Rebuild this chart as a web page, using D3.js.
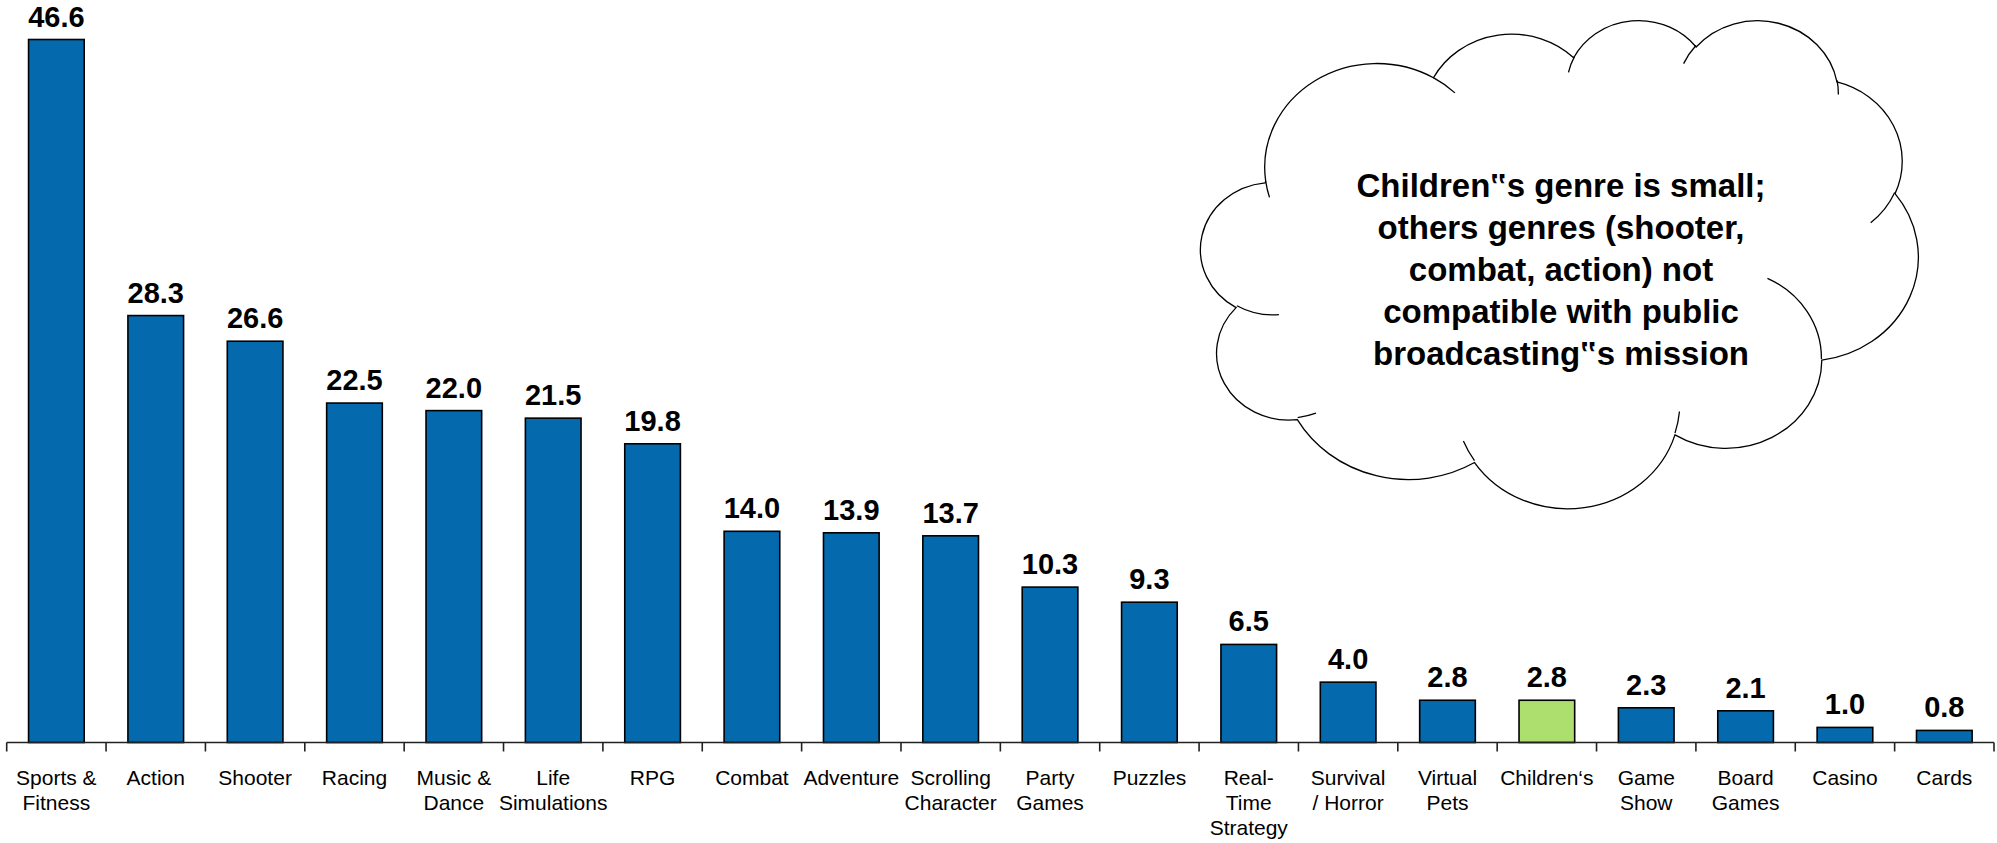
<!DOCTYPE html>
<html>
<head>
<meta charset="utf-8">
<script src="https://cdn.jsdelivr.net/npm/d3@7"></script>
<style>
  html, body { margin: 0; padding: 0; background: #fff; }
  svg { display: block; }
</style>
</head>
<body>
<svg id="chart" width="1997" height="843"></svg>
<script>
// ---- data ----
const categories = [
  "Sports &\nFitness", "Action", "Shooter", "Racing", "Music &\nDance",
  "Life\nSimulations", "RPG", "Combat", "Adventure", "Scrolling\nCharacter",
  "Party\nGames", "Puzzles", "Real-\nTime\nStrategy", "Survival\n/ Horror", "Virtual\nPets",
  "Children‘s", "Game\nShow", "Board\nGames", "Casino", "Cards"
];
const values = [46.6, 28.3, 26.6, 22.5, 22.0, 21.5, 19.8, 14.0, 13.9, 13.7,
                10.3, 9.3, 6.5, 4.0, 2.8, 2.8, 2.3, 2.1, 1.0, 0.8];
const highlighted = ["Children‘s"];
const calloutLines = [
  "Children‟s genre is small;",
  "others genres (shooter,",
  "combat, action) not",
  "compatible with public",
  "broadcasting‟s mission"
];

// ---- layout ----
const svg = d3.select("#chart");
const blue = "#0569AE", green = "#ADDF6E";
const x = d3.scaleBand().domain(categories).range([6.7, 1994]).paddingInner(0.44).paddingOuter(0.22);
const y = d3.scaleLinear().domain([0, 46.6]).range([742.5, 39.5]);

// bars
svg.append("g").selectAll("rect").data(values).join("rect")
  .attr("x", (d, i) => x(categories[i]))
  .attr("width", x.bandwidth())
  .attr("y", d => y(d))
  .attr("height", d => y(0) - y(d))
  .attr("fill", (d, i) => highlighted.includes(categories[i]) ? green : blue)
  .attr("stroke", "#000").attr("stroke-width", 1.6);

// axis line + ticks (ticks at band boundaries)
const step = x.step();
const x0 = 6.7;
svg.append("line").attr("x1", x0).attr("x2", 1994).attr("y1", y(0)).attr("y2", y(0))
  .attr("stroke", "#222").attr("stroke-width", 1.6);
const bounds = d3.range(categories.length + 1);
svg.append("g").selectAll("line").data(bounds).join("line")
  .attr("x1", i => x0 + i * step).attr("x2", i => x0 + i * step)
  .attr("y1", y(0)).attr("y2", y(0) + 9)
  .attr("stroke", "#222").attr("stroke-width", 1.6);

// value labels
svg.append("g").selectAll("text").data(values).join("text")
  .attr("x", (d, i) => x(categories[i]) + x.bandwidth() / 2)
  .attr("y", d => y(d) - 13)
  .attr("text-anchor", "middle")
  .attr("font-family", "Liberation Sans, Arial, sans-serif")
  .attr("font-weight", "bold").attr("font-size", 29)
  .attr("fill", "#000")
  .text(d => d.toFixed(1));

// category labels
const lab = svg.append("g").selectAll("text").data(categories).join("text")
  .attr("x", d => x(d) + x.bandwidth() / 2)
  .attr("y", 785)
  .attr("text-anchor", "middle")
  .attr("font-family", "Liberation Sans, Arial, sans-serif")
  .attr("font-size", 21).attr("fill", "#000");
lab.each(function(d) {
  const t = d3.select(this);
  d.split("\n").forEach((line, k) => {
    t.append("tspan").attr("x", x(d) + x.bandwidth() / 2).attr("y", 785 + 25 * k).text(line);
  });
});

// ---- cloud callout (PowerPoint-style cloud shape) ----
const box = {x0: 1201, x1: 1918, y0: 19, y1: 507};
const sx = d3.scaleLinear().domain([0, 43200]).range([box.x0, box.x1]);
const sy = d3.scaleLinear().domain([0, 43200]).range([box.y0, box.y1]);
const kx = (box.x1 - box.x0) / 43200, ky = (box.y1 - box.y0) / 43200;

function arcSeg(cur, wR, hR, stAng, swAng) {
  const th1 = stAng / 60000 * Math.PI / 180;
  const sw = swAng / 60000 * Math.PI / 180;
  const th2 = th1 + sw;
  const t1 = Math.atan2(wR * Math.sin(th1), hR * Math.cos(th1));
  const t2 = Math.atan2(wR * Math.sin(th2), hR * Math.cos(th2));
  const cx = cur[0] - wR * Math.cos(t1), cy = cur[1] - hR * Math.sin(t1);
  const end = [cx + wR * Math.cos(t2), cy + hR * Math.sin(t2)];
  let dt = t2 - t1;
  if (sw > 0 && dt < 0) dt += 2 * Math.PI;
  if (sw < 0 && dt > 0) dt -= 2 * Math.PI;
  const large = Math.abs(dt) > Math.PI ? 1 : 0;
  const sweep = sw > 0 ? 1 : 0;
  const cmd = `A${wR * kx},${hR * ky} 0 ${large} ${sweep} ${sx(end[0])},${sy(end[1])}`;
  return {end, cmd};
}

const outerArcs = [
  [6753, 9190, -11429249, 7426832],
  [5333, 7267, -8646143, 5396714],
  [4365, 5945, -8748475, 5983381],
  [4857, 6595, -7859164, 7034504],
  [5333, 7273, -4722533, 6541615],
  [6775, 9220, -2776035, 7816140],
  [5785, 7867, 37501, 6842000],
  [6752, 9215, 1347096, 6910353],
  [7720, 10543, 3974558, 4542661],
  [4360, 5918, -16496525, 8804134],
  [4345, 5945, -14809710, 9151131]
];
let cur = [3900, 14370];
let dOuter = `M${sx(cur[0])},${sy(cur[1])}`;
outerArcs.forEach(a => { const r = arcSeg(cur, ...a); dOuter += r.cmd; cur = r.end; });
dOuter += "Z";

const innerArcs = [
  [[4693, 26177], 4345, 5945, 5204520, 1585770],
  [[6928, 34899], 4360, 5918, 4416628, 686848],
  [[16478, 39090], 6752, 9215, 8257449, 844866],
  [[28827, 34751], 6752, 9215, 387196, 959901],
  [[34129, 22954], 5785, 7867, -4217541, 4255042],
  [[41798, 15354], 5333, 7273, 1819082, 1665090],
  [[38324, 5426], 4857, 6595, -824660, 891534],
  [[29078, 3952], 4857, 6595, -8950887, 1091722],
  [[22141, 4720], 4365, 5945, -9809656, 1061181],
  [[14000, 5192], 6753, 9190, -4002417, 739161],
  [[4127, 15789], 6753, 9190, 9459261, 711490]
];
let dInner = "";
innerArcs.forEach(a => {
  const p = a[0];
  dInner += `M${sx(p[0])},${sy(p[1])}` + arcSeg(p, a[1], a[2], a[3], a[4]).cmd;
});

const cloud = svg.append("g");
cloud.append("path").attr("d", dOuter).attr("fill", "#fff").attr("stroke", "#000").attr("stroke-width", 1.3);
cloud.append("path").attr("d", dInner).attr("fill", "none").attr("stroke", "#000").attr("stroke-width", 1.3);

cloud.append("g").selectAll("text").data(calloutLines).join("text")
  .attr("x", 1561)
  .attr("y", (d, i) => 197 + 42 * i)
  .attr("text-anchor", "middle")
  .attr("font-family", "Liberation Sans, Arial, sans-serif")
  .attr("font-weight", "bold").attr("font-size", 33)
  .attr("fill", "#000")
  .text(d => d);
</script>
</body>
</html>
